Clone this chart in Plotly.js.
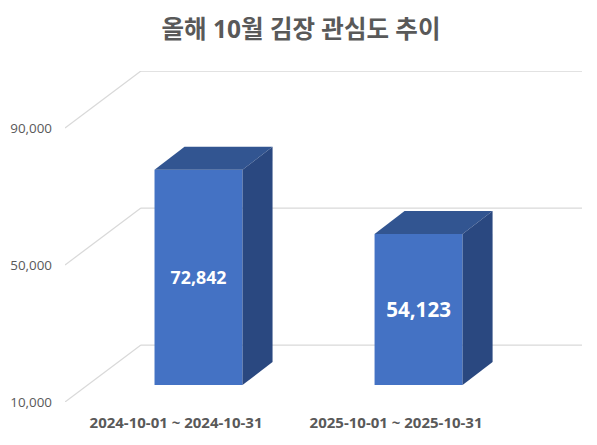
<!DOCTYPE html>
<html>
<head>
<meta charset="utf-8">
<script src="https://cdn.plot.ly/plotly-3.0.1.min.js"></script>
<style>html,body{margin:0;padding:0;background:#fff}</style>
</head>
<body>
<div id="chart" style="width:597px;height:445px"></div>
<script>
const categories = ["2024-10-01 ~ 2024-10-31", "2025-10-01 ~ 2025-10-31"];
const values = [72842, 54123];
const yTicks = [10000, 50000, 90000];
const labelSizes = [17.8, 20.6];

const FONT = '"Open Sans","Noto Sans CJK KR",sans-serif';
const yMin = 10000;
// 3D projection offsets in axis units
const wallDx = 0.345, wallDy = 16642;
const barShiftX = 0.1023, barShiftY = 4964;
const barWidth = 0.4, barDepthX = 0.1364, barDepthY = 6715;

const xs = categories.map((c, i) => i);
const left = xs.map(x => x + barShiftX - barWidth / 2);
const right = xs.map(x => x + barShiftX + barWidth / 2);
const bottom = yMin + barShiftY;
const top3 = values.map(v => v + barShiftY);

const traces = [{
  type: 'bar',
  x: xs.map(x => x + barShiftX),
  y: values.map(v => v - yMin),
  base: bottom,
  width: barWidth,
  marker: {color: '#4472c4', line: {width: 0}},
  text: values.map(v => v.toLocaleString('en-US')),
  textposition: 'inside',
  insidetextanchor: 'middle',
  textangle: 0,
  constraintext: 'none',
  textfont: {family: FONT, size: labelSizes, color: '#ffffff', weight: 700},
  hoverinfo: 'skip',
  showlegend: false
}];

xs.forEach((x, i) => {
  // top face
  traces.push({
    type: 'scatter', mode: 'lines', fill: 'toself',
    x: [left[i], right[i], right[i] + barDepthX, left[i] + barDepthX, left[i]],
    y: [top3[i], top3[i], top3[i] + barDepthY, top3[i] + barDepthY, top3[i]],
    fillcolor: '#325591', line: {width: 0, color: '#325591'},
    hoverinfo: 'skip', showlegend: false
  });
  // side face
  traces.push({
    type: 'scatter', mode: 'lines', fill: 'toself',
    x: [right[i], right[i] + barDepthX, right[i] + barDepthX, right[i], right[i]],
    y: [bottom, bottom + barDepthY, top3[i] + barDepthY, top3[i], bottom],
    fillcolor: '#2a4880', line: {width: 0, color: '#2a4880'},
    hoverinfo: 'skip', showlegend: false
  });
});

const xMin = -0.5045, xMax = 1.845;
const shapes = [];
yTicks.forEach(t => {
  const line = {color: '#d9d9d9', width: 1.25};
  shapes.push({type: 'line', layer: 'below', xref: 'x', yref: 'y',
    x0: xMin, y0: t, x1: xMin + wallDx, y1: t + wallDy, line});
  shapes.push({type: 'line', layer: 'below', xref: 'x', yref: 'y',
    x0: xMin + wallDx, y0: t + wallDy, x1: xMax, y1: t + wallDy, line});
});

const layout = {
  width: 597, height: 445,
  margin: {l: 65, r: 15, t: 71, b: 43, pad: 0},
  paper_bgcolor: '#ffffff', plot_bgcolor: 'rgba(0,0,0,0)',
  showlegend: false,
  title: {
    text: '<b>올해 10월 김장 관심도 추이</b>',
    font: {family: FONT, size: 24.5, color: '#595959'},
    x: 301 / 597, xanchor: 'center', xref: 'container',
    y: 1 - 29 / 445, yanchor: 'middle', yref: 'container'
  },
  xaxis: {
    range: [xMin, xMax], tickmode: 'array', tickvals: xs, ticktext: categories,
    showgrid: false, zeroline: false, showline: false, ticks: '',
    tickangle: 0, ticklabelstandoff: 10,
    tickfont: {family: FONT, size: 15, color: '#595959', weight: 700},
    fixedrange: true
  },
  yaxis: {
    range: [yMin, yMin + (331 / 137) * 40000], tickmode: 'array', tickvals: yTicks,
    tickformat: ',d',
    showgrid: false, zeroline: false, showline: false, ticks: '',
    ticklabelstandoff: 12,
    tickfont: {family: FONT, size: 13.4, color: '#595959'},
    fixedrange: true
  },
  shapes
};

Plotly.newPlot('chart', traces, layout, {displayModeBar: false, staticPlot: true});
</script>
</body>
</html>
